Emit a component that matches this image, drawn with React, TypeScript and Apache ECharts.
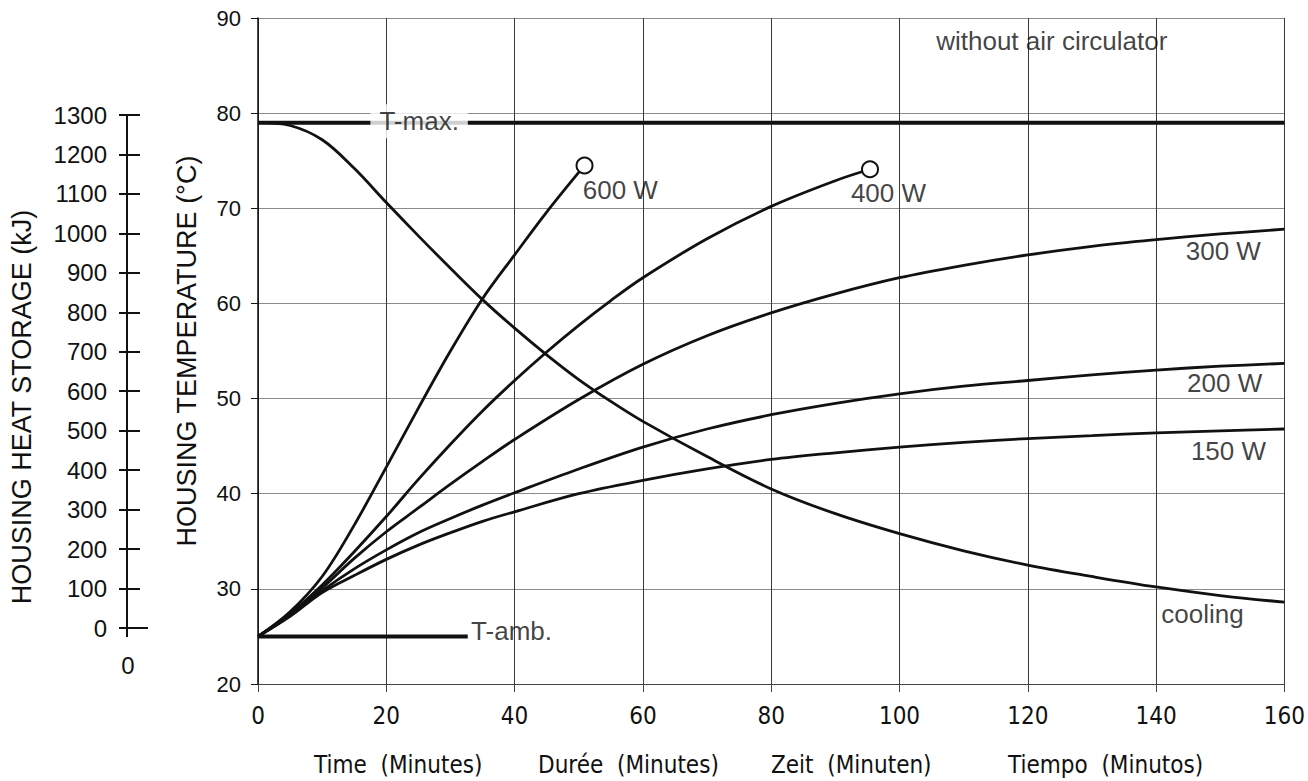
import React, { useEffect, useRef } from 'react';
import * as echarts from 'echarts';

// ---- data (time in minutes, temperature in °C) ----
const time600 = [0, 5, 10, 15, 20, 25, 30, 35, 40, 45, 50.9];
const temp600 = [25, 27.6, 31.3, 36.7, 42.8, 49.0, 55.0, 60.5, 65.1, 69.6, 74.5];

const time400 = [0, 5, 10, 15, 20, 25, 30, 35, 40, 45, 50, 55, 60, 70, 80, 90, 95.4];
const temp400 = [25, 27.4, 30.4, 33.9, 37.6, 41.5, 45.2, 48.7, 51.9, 54.9, 57.7, 60.3, 62.7, 66.8, 70.2, 72.9, 74.1];

const time300 = [0, 5, 10, 15, 20, 25, 30, 35, 40, 50, 60, 70, 80, 90, 100, 110, 120, 130, 140, 150, 160];
const temp300 = [25, 27.3, 30.1, 33.2, 36.0, 38.5, 41.0, 43.4, 45.7, 49.9, 53.6, 56.6, 59.0, 61.0, 62.7, 64.0, 65.1, 66.0, 66.7, 67.3, 67.8];

const time200 = [0, 5, 10, 15, 20, 25, 30, 35, 40, 50, 60, 70, 80, 90, 100, 110, 120, 130, 140, 150, 160];
const temp200 = [25, 27.2, 29.8, 32.1, 34.1, 35.9, 37.4, 38.8, 40.1, 42.6, 44.9, 46.8, 48.3, 49.5, 50.5, 51.3, 51.9, 52.5, 53.0, 53.4, 53.7];

const time150 = [0, 5, 10, 15, 20, 25, 30, 35, 40, 50, 60, 70, 80, 90, 100, 110, 120, 130, 140, 150, 160];
const temp150 = [25, 27.1, 29.6, 31.4, 33.1, 34.6, 35.9, 37.1, 38.1, 40.0, 41.4, 42.6, 43.6, 44.3, 44.9, 45.4, 45.8, 46.1, 46.4, 46.6, 46.8];

const timeCooling = [0, 5, 10, 15, 20, 25, 30, 35, 40, 45, 50, 55, 60, 70, 80, 90, 100, 110, 120, 130, 140, 150, 160];
const tempCooling = [79, 78.7, 77.2, 74.2, 70.6, 67.1, 63.7, 60.4, 57.4, 54.6, 52.0, 49.7, 47.6, 43.9, 40.5, 37.9, 35.8, 34.0, 32.5, 31.3, 30.2, 29.3, 28.6];

const timeTmax = [0, 160];
const tempTmax = [79, 79];
const timeTamb = [0, 32.7];
const tempTamb = [25, 25];

// curve annotations (left edge time, middle temperature)
const noteTexts = ['600 W', '400 W', '300 W', '200 W', '150 W', 'cooling', 'T-max.', 'T-amb.', 'without air circulator'];
const noteTimes = [50.7, 92.5, 144.7, 144.9, 145.5, 140.9, 17.6, 33.3, 105.8];
const noteTemps = [71.9, 71.6, 65.5, 51.6, 44.4, 27.3, 79.1, 25.5, 87.5];

const xTitles = ['Time  (Minutes)', 'Durée  (Minutes)', 'Zeit  (Minuten)', 'Tiempo  (Minutos)'];

const INK = '#111111';
const SANS = "'Liberation Sans', Arial, sans-serif";
const NARROW = "'Liberation Sans Narrow', 'DejaVu Sans Condensed', 'Liberation Sans', sans-serif";

function pairs(ts: number[], vs: number[]) {
  return ts.map((t, i) => [t, vs[i]]);
}

function withEndCircle(ts: number[], vs: number[]) {
  const d: any[] = pairs(ts, vs);
  const last = d[d.length - 1];
  d[d.length - 1] = {
    value: last,
    symbol: 'circle',
    symbolSize: 16,
    itemStyle: { color: '#ffffff', borderColor: INK, borderWidth: 2 },
  };
  return d;
}

function curve(name: string, data: any[], width = 2.8) {
  return {
    name,
    type: 'line',
    xAxisIndex: 0,
    yAxisIndex: 0,
    data,
    smooth: 0.35,
    symbol: 'none',
    showSymbol: true,
    lineStyle: { color: INK, width },
    itemStyle: { color: INK },
    z: 3,
  };
}

export default function App() {
  const ref = useRef<HTMLDivElement>(null);
  useEffect(() => {
    const chart = echarts.init(ref.current!, null, { renderer: 'svg' });
    const noteData = noteTexts.map((txt, i) => {
      const item: any = { name: txt, value: [noteTimes[i], noteTemps[i]] };
      if (txt === 'T-max.') {
        item.label = { backgroundColor: '#ffffff', padding: [4, 9] };
      }
      return item;
    });
    const option: any = {
      animation: false,
      backgroundColor: '#ffffff',
      grid: [
        { left: 258, right: 22, top: 18, bottom: 97 },
        { left: 127, width: 1, top: 115, bottom: 153 },
      ],
      xAxis: [
        {
          gridIndex: 0,
          type: 'value',
          min: 0,
          max: 160,
          interval: 20,
          axisLine: { show: true, onZero: false, lineStyle: { color: '#444', width: 1 } },
          axisTick: { show: true, length: 8, lineStyle: { color: '#444', width: 1 } },
          axisLabel: { fontSize: 24, color: INK, margin: 20, fontFamily: NARROW },
          splitLine: { show: true, lineStyle: { color: '#3a3a3a', width: 1 } },
        },
        { gridIndex: 1, type: 'value', min: 0, max: 1, show: false },
      ],
      yAxis: [
        {
          gridIndex: 0,
          type: 'value',
          min: 20,
          max: 90,
          interval: 10,
          position: 'left',
          name: 'HOUSING TEMPERATURE (°C)',
          nameLocation: 'middle',
          nameGap: 58,
          nameTextStyle: { fontSize: 27, color: INK, fontFamily: SANS },
          axisLine: { show: true, onZero: false, lineStyle: { color: INK, width: 1.5 } },
          axisTick: { show: true, length: 7, lineStyle: { color: INK, width: 1 } },
          axisLabel: { fontSize: 22, color: INK, margin: 17, fontFamily: SANS },
          splitLine: { show: true, lineStyle: { color: '#8a8a8a', width: 1 } },
        },
        {
          gridIndex: 1,
          type: 'value',
          min: 0,
          max: 1300,
          interval: 100,
          position: 'left',
          axisLine: { show: true, onZero: false, lineStyle: { color: INK, width: 2 } },
          axisTick: { show: true, length: 8, lineStyle: { color: INK, width: 2 } },
          axisLabel: { fontSize: 24, color: INK, margin: 20, fontFamily: SANS, formatter: (v: number) => String(v) },
          splitLine: { show: false },
        },
        {
          gridIndex: 1,
          type: 'value',
          min: 0,
          max: 1300,
          interval: 100,
          position: 'right',
          axisLine: { show: false },
          axisTick: { show: true, length: 13, lineStyle: { color: INK, width: 2 } },
          axisLabel: { show: false },
          splitLine: { show: false },
        },
      ],
      series: [
        curve('600 W', withEndCircle(time600, temp600)),
        curve('400 W', withEndCircle(time400, temp400)),
        curve('300 W', pairs(time300, temp300)),
        curve('200 W', pairs(time200, temp200)),
        curve('150 W', pairs(time150, temp150)),
        curve('cooling', pairs(timeCooling, tempCooling)),
        curve('T-max.', pairs(timeTmax, tempTmax), 4),
        curve('T-amb.', pairs(timeTamb, tempTamb), 4),
        {
          name: 'notes',
          type: 'scatter',
          xAxisIndex: 0,
          yAxisIndex: 0,
          symbolSize: 1,
          itemStyle: { color: 'rgba(0,0,0,0)' },
          data: noteData,
          z: 6,
          label: {
            show: true,
            position: [0, 0],
            align: 'left',
            verticalAlign: 'middle',
            formatter: (p: any) => p.name,
            fontSize: 26,
            color: INK,
            fontFamily: SANS,
          },
        },
      ],
      graphic: [
        { type: 'line', shape: { x1: 127, y1: 628, x2: 127, y2: 637 }, style: { stroke: INK, lineWidth: 2 } },
        { type: 'line', shape: { x1: 127, y1: 628, x2: 148, y2: 628 }, style: { stroke: INK, lineWidth: 2 } },
        { type: 'text', x: 128, y: 665, style: { text: '0', fill: INK, font: `24px ${SANS}`, align: 'center', verticalAlign: 'middle' } },
        {
          type: 'text', x: 22, y: 407, rotation: Math.PI / 2,
          style: { text: 'HOUSING HEAT STORAGE (kJ)', fill: INK, font: `27px ${SANS}`, align: 'center', verticalAlign: 'middle' },
        },
        { type: 'text', x: 314, y: 765, style: { text: xTitles[0], fill: INK, font: `24px ${NARROW}`, align: 'left', verticalAlign: 'middle' } },
        { type: 'text', x: 538, y: 765, style: { text: xTitles[1], fill: INK, font: `24px ${NARROW}`, align: 'left', verticalAlign: 'middle' } },
        { type: 'text', x: 771, y: 765, style: { text: xTitles[2], fill: INK, font: `24px ${NARROW}`, align: 'left', verticalAlign: 'middle' } },
        { type: 'text', x: 1008, y: 765, style: { text: xTitles[3], fill: INK, font: `24px ${NARROW}`, align: 'left', verticalAlign: 'middle' } },
      ],
    };
    chart.setOption(option);
    return () => chart.dispose();
  }, []);
  return <div ref={ref} style={{ position: 'absolute', left: 0, top: 0, width: 1308, height: 781 }} />;
}
